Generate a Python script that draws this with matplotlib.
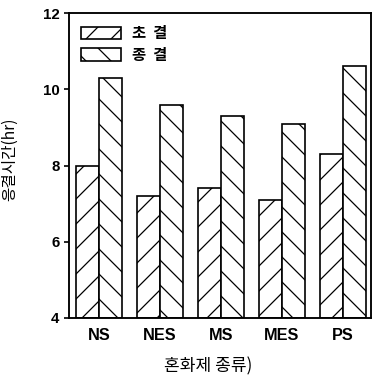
import matplotlib
matplotlib.use('Agg')
import matplotlib.pyplot as plt
import numpy as np

# 데이터
categories = ['NS', 'NES', 'MS', 'MES', 'PS']
initial_set = [8.0, 7.2, 7.4, 7.1, 8.3]    # 초결
final_set = [10.3, 9.6, 9.3, 9.1, 10.6]    # 종결
yticks = [4, 6, 8, 10, 12]

DPI = 150
plt.rcParams['font.family'] = ['Liberation Sans', 'Noto Sans CJK KR', 'DejaVu Sans']
plt.rcParams['hatch.linewidth'] = 0.6

fig = plt.figure(figsize=(376 / DPI, 377 / DPI), dpi=DPI)
ax = fig.add_axes([0.1835, 0.1565, 0.803, 0.809])

x = np.arange(len(categories))
w = 0.375
ax.bar(x - w / 2, [v - 4 for v in initial_set], w, bottom=4, color='white',
       edgecolor='black', linewidth=0.8, hatch='//', label='초  결')
ax.bar(x + w / 2, [v - 4 for v in final_set], w, bottom=4, color='white',
       edgecolor='black', linewidth=0.8, hatch='\\\\', label='종  결')

ax.set_xlim(-0.49, 4.46)
ax.set_ylim(4, 12)
ax.set_yticks(yticks)
ax.set_yticklabels([str(t) for t in yticks], fontsize=7.2, fontweight='bold')
ax.set_xticks(x)
ax.set_xticklabels(categories, fontsize=7.8, fontweight='bold')
ax.tick_params(axis='x', length=0, pad=5)
ax.tick_params(axis='y', direction='out', length=2.5, width=0.8, pad=2)
for s in ax.spines.values():
    s.set_linewidth(0.9)

ax.set_xlabel('혼화제 종류)', fontsize=8.2, family=['Noto Sans CJK KR', 'DejaVu Sans'])
ax.xaxis.set_label_coords(0.46, -0.13)
ax.set_ylabel('응결시간(hr)', fontsize=7.5, family=['Noto Sans CJK KR', 'DejaVu Sans'])
ax.yaxis.set_label_coords(-0.17, 0.52)

ax.legend(loc='upper left', bbox_to_anchor=(0.01, 0.99), frameon=False,
          prop={'family': ['Noto Sans CJK KR', 'DejaVu Sans'], 'size': 7.4, 'weight': 'bold'},
          handlelength=2.6, handleheight=0.9, handletextpad=0.7, labelspacing=0.35,
          borderaxespad=0.2)

fig.savefig('out.png', dpi=DPI)
